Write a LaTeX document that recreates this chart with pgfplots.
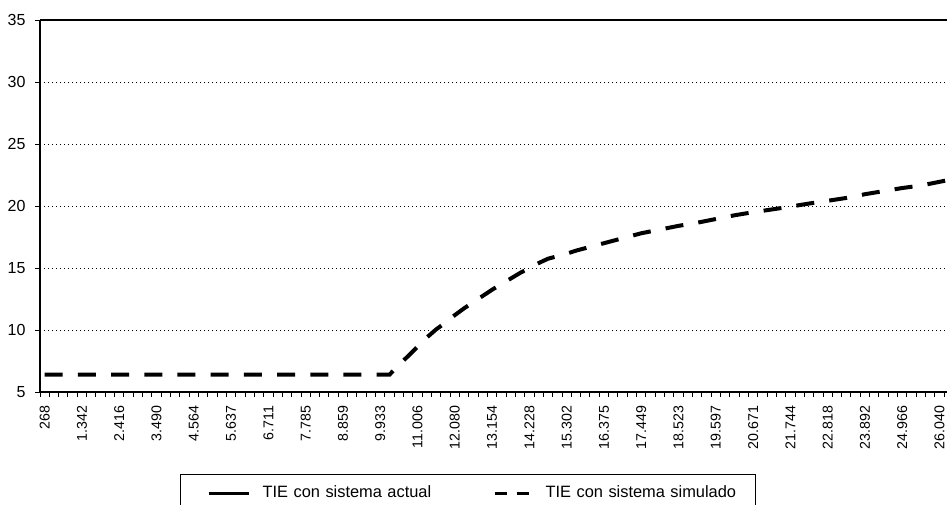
\documentclass[border=0pt]{standalone}
\usepackage{pgfplots}
\pgfplotsset{compat=1.18}
\usepackage{fontspec}
\setmainfont{Liberation Sans}

\pgfplotsset{
    legsolid/.style={legend image code/.code={%
        \path[draw=none] (0pt,0pt) -- (37pt,0pt);
        \draw[##1] (10pt,0pt) -- (30pt,0pt);}},
    legdash/.style={legend image code/.code={%
        \path[draw=none] (0pt,0pt) -- (40.5pt,0pt);
        \draw[##1, line width=1.5pt, dash pattern=on 6pt off 5pt] (15pt,0pt) -- (32.5pt,0pt);}},
}

\begin{document}
\begin{tikzpicture}
\path[use as bounding box] (0,0) rectangle (473.5pt,252pt);
\clip (0,0) rectangle (473.5pt,252pt);
\begin{axis}[
    at={(20pt,56pt)}, anchor=south west,
    scale only axis, width=453.5pt, height=186pt,
    xmin=-0.5, xmax=96.8,
    ymin=5, ymax=35,
    axis x line*=bottom, axis y line*=left,
    axis line style={line width=0.6pt},
    tick align=outside,
    major tick length=2.5pt,
    tick style={black, line width=0.5pt},
    /pgf/number format/assume math mode=true,
    ytick={5,10,...,35},
    yticklabel style={font=\fontsize{8}{9}\selectfont},
    yticklabel shift=1.2pt,
    ymajorgrids=true,
    grid style={black, line width=0.5pt, dash pattern=on 0.5pt off 1.5pt},
    extra y ticks={35}, extra y tick labels={},
    extra y tick style={grid=major, grid style={solid, black, line width=0.6pt}},
    xtick={-0.5,0.5,...,96.5}, xticklabels={},
    extra x ticks={0,4,...,96},
    extra x tick labels={268,1.342,2.416,3.490,4.564,5.637,6.711,7.785,8.859,9.933,11.006,12.080,13.154,14.228,15.302,16.375,17.449,18.523,19.597,20.671,21.744,22.818,23.892,24.966,26.040},
    extra x tick style={major tick length=0pt},
    xticklabel style={rotate=90, anchor=east, font=\fontsize{7.1}{8}\selectfont},
    xticklabel shift=3.5pt,
    legend columns=2,
    legend cell align=left,
    legend style={at={(0.1544,-0.2204)}, anchor=north west, draw=black,
        line width=0.6pt, inner xsep=4pt, inner ysep=5.5pt,
        font=\fontsize{8.2}{10}\selectfont, column sep=0pt,
        nodes={inner sep=0pt, text width=101pt, align=left, text height=6pt, text depth=2pt}},
]
% TIE con sistema actual (no visible en el grafico)
\addlegendimage{black, line width=1.5pt, legsolid}
\addlegendentry{TIE con sistema actual}
% TIE con sistema simulado
\addplot[black, line width=2pt, dash pattern=on 9pt off 7.6pt, legdash]
    coordinates {
    (0,6.4)(36,6.4)(37,6.4)(38,7.2)(39,7.9)(40,8.65)(41,9.4)(42,10.05)(43,10.6)
    (44,11.2)(45,11.75)(46,12.25)(47,12.75)(48,13.25)(49,13.7)(50,14.15)(51,14.6)
    (52,15.0)(53,15.4)(54,15.75)(55,15.95)(56,16.15)(57,16.4)(58,16.6)(59,16.8)
    (60,17.0)(61,17.2)(62,17.4)(63,17.6)(64,17.8)(65,17.95)(66,18.1)(67,18.25)
    (68,18.4)(70,18.65)(72,18.95)(74,19.25)(76,19.5)(78,19.72)(80,19.95)(82,20.2)
    (84,20.42)(86,20.65)(88,20.95)(90,21.2)(92,21.45)(94,21.65)(96,21.95)(97,22.1)
    };
\addlegendentry{TIE con sistema simulado}
\end{axis}
\end{tikzpicture}
\end{document}
